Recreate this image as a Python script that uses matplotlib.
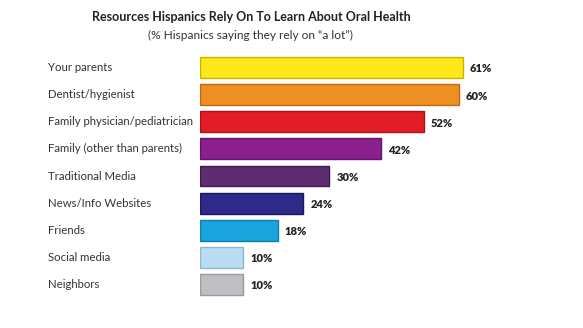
import matplotlib
matplotlib.use("Agg")
import matplotlib.pyplot as plt
from matplotlib.transforms import blended_transform_factory

categories = [
    "Your parents",
    "Dentist/hygienist",
    "Family physician/pediatrician",
    "Family (other than parents)",
    "Traditional Media",
    "News/Info Websites",
    "Friends",
    "Social media",
    "Neighbors",
]
values = [61, 60, 52, 42, 30, 24, 18, 10, 10]
colors = ["#FFE81A", "#EF8E22", "#E31D25", "#8C1F8E", "#5F2C6F",
          "#2D2A8A", "#19A4DD", "#B9DDF2", "#BEBFC2"]
edges = ["#C9B400", "#C06A10", "#A81218", "#651466", "#42184F",
         "#1B1960", "#0E7DAE", "#8FB8D0", "#9A9B9E"]

plt.rcParams["font.family"] = ["Lato", "DejaVu Sans"]

fig = plt.figure(figsize=(5.83, 3.28), dpi=100)
W, H = 583, 328
ax = fig.add_axes([200 / W, 1 - 298 / H, 383 / W, 244 / H])

y = list(range(len(categories)))
ax.barh(y, values, height=0.77, color=colors, edgecolor=edges, linewidth=1.0)
ax.set_xlim(0, 383 / 4.31)
ax.set_ylim(8.5, -0.5)
ax.axis("off")

trans = blended_transform_factory(fig.transFigure, ax.transData)
for i, (c, v) in enumerate(zip(categories, values)):
    ax.text(48 / W, i, c, transform=trans, ha="left", va="center",
            fontsize=8.2, color="#333333")
    ax.text(v + 1.6, i + 0.05, f"{v}%", ha="left", va="center",
            fontsize=8, fontweight="heavy", color="#222222")

fig.text(251 / W, 1 - 17 / H, "Resources Hispanics Rely On To Learn About Oral Health",
         ha="center", va="center", fontsize=9, fontweight="bold", color="#222222")
fig.text(250 / W, 1 - 35 / H, "(% Hispanics saying they rely on \u201ca lot\u201d)",
         ha="center", va="center", fontsize=8.6, color="#333333")

fig.savefig("out.png", dpi=100, facecolor="white")
